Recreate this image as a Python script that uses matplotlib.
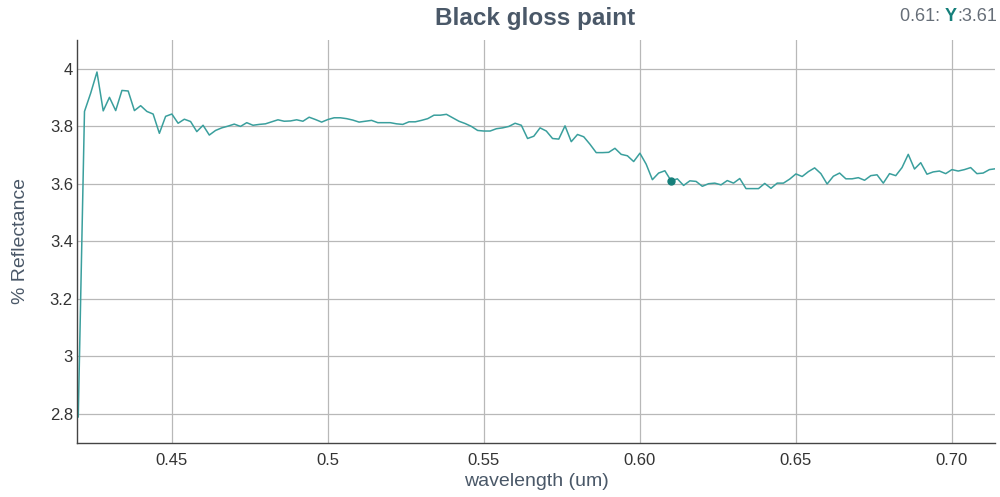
import numpy as np
import matplotlib
matplotlib.use('Agg')
import matplotlib.pyplot as plt
from matplotlib.ticker import FuncFormatter

plt.rcParams['font.family'] = ['Liberation Sans', 'DejaVu Sans']

# spectrum sampled every 2 nm from 0.420 um
wl_start = 0.420
wl_step = 0.002
reflectance = [
    2.79, 3.851, 3.915, 3.988, 3.853, 3.90, 3.854, 3.924, 3.922, 3.854,
    3.871, 3.851, 3.842, 3.775, 3.834, 3.842, 3.81, 3.824, 3.816, 3.781,
    3.803, 3.769, 3.785, 3.794, 3.80, 3.807, 3.799, 3.812, 3.803, 3.806,
    3.808, 3.815, 3.822, 3.817, 3.818, 3.822, 3.817, 3.831, 3.823, 3.814,
    3.823, 3.829, 3.829, 3.826, 3.821, 3.814, 3.817, 3.82, 3.812, 3.812,
    3.812, 3.808, 3.806, 3.815, 3.815, 3.82, 3.826, 3.838, 3.838, 3.841,
    3.829, 3.817, 3.809, 3.799, 3.785, 3.783, 3.783, 3.791, 3.794, 3.799,
    3.81, 3.803, 3.757, 3.765, 3.794, 3.783, 3.757, 3.755, 3.801, 3.746,
    3.771, 3.763, 3.737, 3.708, 3.708, 3.709, 3.723, 3.702, 3.697, 3.677,
    3.706, 3.668, 3.614, 3.637, 3.645, 3.61, 3.617, 3.594, 3.61, 3.608,
    3.591, 3.60, 3.602, 3.596, 3.611, 3.602, 3.618, 3.583, 3.583, 3.583,
    3.601, 3.584, 3.602, 3.602, 3.616, 3.634, 3.625, 3.642, 3.655, 3.635,
    3.599, 3.626, 3.637, 3.617, 3.617, 3.621, 3.612, 3.628, 3.631, 3.602,
    3.635, 3.628, 3.656, 3.702, 3.651, 3.673, 3.633, 3.641, 3.644, 3.635,
    3.649, 3.644, 3.649, 3.656, 3.635, 3.637, 3.649, 3.652,
]
wavelength = wl_start + wl_step * np.arange(len(reflectance))

# highlighted sample
hover_x = 0.61
hover_y = 3.61

xticks = [0.45, 0.5, 0.55, 0.60, 0.65, 0.70]
xtick_labels = ['0.45', '0.5', '0.55', '0.60', '0.65', '0.70']
yticks = [2.8, 3.0, 3.2, 3.4, 3.6, 3.8, 4.0]

line_color = '#3a9f9d'
text_color = '#4a5868'

fig = plt.figure(figsize=(10, 4.97), dpi=100)
ax = fig.add_axes([0.077, 0.109, 0.918, 0.811])

ax.plot(wavelength, reflectance, color=line_color, lw=1.1)
ax.plot([hover_x], [hover_y], 'o', color='#157f7a', ms=5)

ax.set_xlim(0.4196, 0.7138)
ax.set_ylim(2.7, 4.1)
ax.set_xticks(xticks)
ax.set_xticklabels(xtick_labels)
ax.set_yticks(yticks)
ax.yaxis.set_major_formatter(FuncFormatter(lambda v, p: '%g' % v))

ax.grid(True, color='#b8b8b8', lw=0.9)
ax.set_axisbelow(True)
ax.tick_params(length=0, labelsize=12, colors='#333333')
ax.tick_params(axis='y', pad=3)
ax.tick_params(axis='x', pad=7)
for side in ['top', 'right']:
    ax.spines[side].set_visible(False)
for side in ['left', 'bottom']:
    ax.spines[side].set_color('#444444')
    ax.spines[side].set_linewidth(1)

ax.set_xlabel('wavelength (um)', fontsize=14, color=text_color, labelpad=4)
ax.set_ylabel('% Reflectance', fontsize=14, color=text_color, labelpad=15)

fig.text(0.535, 0.962, 'Black gloss paint', ha='center', va='center',
         fontsize=17.5, fontweight='bold', color=text_color)

# hover readout in the corner, laid out right to left
ry = 0.966
renderer = fig.canvas.get_renderer()
t3 = fig.text(0.997, ry, ':%.2f' % hover_y, ha='right', va='center',
              fontsize=13, color='#666e78')
x3 = t3.get_window_extent(renderer=renderer).x0 / fig.bbox.width
t2 = fig.text(x3, ry, 'Y', ha='right', va='center', fontsize=13,
              fontweight='bold', color='#157f7a')
x2 = t2.get_window_extent(renderer=renderer).x0 / fig.bbox.width
fig.text(x2, ry, '%.2f: ' % hover_x, ha='right', va='center',
         fontsize=13, color='#666e78')

fig.savefig('out.png', dpi=100)
